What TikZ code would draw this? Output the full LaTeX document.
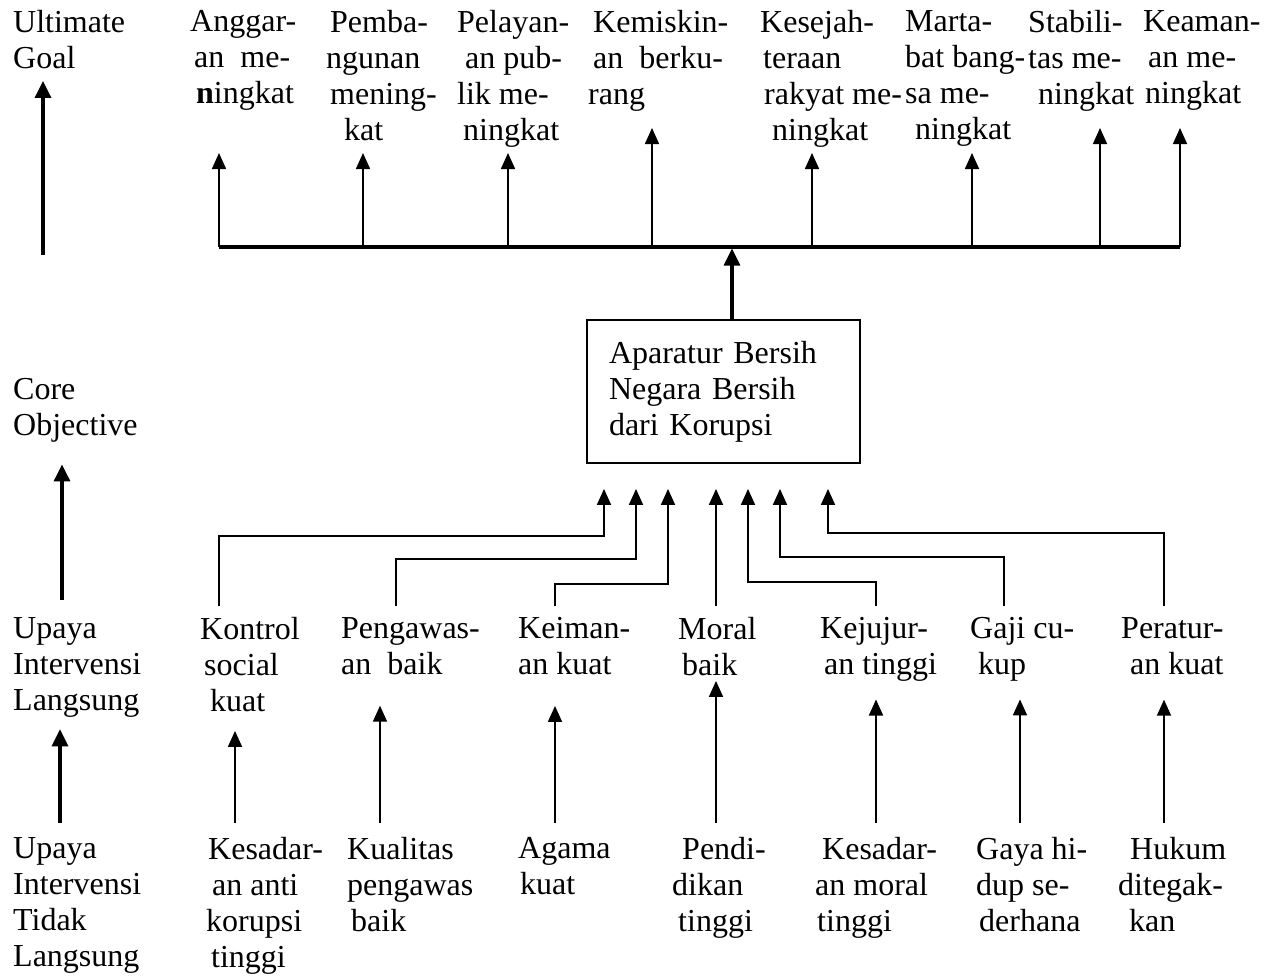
\documentclass[tikz,border=0pt]{standalone}
\usepackage{fontspec}
\setmainfont{Liberation Serif}
\usetikzlibrary{arrows.meta}
\begin{document}
\begin{tikzpicture}[x=1pt,y=-1pt,>={Triangle[width=14pt,length=16pt]},
  txt/.style={anchor=north west,inner sep=0pt,align=left,font=\fontsize{32}{36}\selectfont},
  kotak/.style={draw,line width=1.8pt,minimum width=273pt,minimum height=143pt,text width=229pt,inner xsep=22pt,align=left,font=\fontsize{32}{36}\selectfont},
  up/.style={line width=1.6pt,->},
  bigup/.style={line width=3.2pt,-{Triangle[width=16pt,length=17pt]}}]
 \useasboundingbox (0,0) rectangle (1274,977);
 % left column
 \node[txt] (ug) at (13,10) {Ultimate\\Goal};
 \node[txt] (co) at (13,378) {Core\\Objective};
 \node[txt] (il) at (13,617) {Upaya\\Intervensi\\Langsung};
 \node[txt] (itl) at (13,837) {Upaya\\Intervensi\\Tidak\\Langsung};
 \draw[bigup,shorten <=123pt,shorten >=12pt] (43,0 |- co.north) -- (43,0 |- ug.south);
 \draw[bigup,shorten <=17pt,shorten >=22pt] (62,0 |- il.north) -- (62,0 |- co.south);
 \draw[bigup,shorten <=14pt,shorten >=12pt] (60,0 |- itl.north) -- (60,0 |- il.south);
 % ultimate goals
 \node[txt] (g1) at (190,10) {Anggar-\\\hspace*{4pt}an~ me-\\\hspace*{6pt}\textbf{n}ingkat};
 \node[txt] (g2) at (326,10) {\hspace*{4pt}Pemba-\\ngunan\\\hspace*{4pt}mening-\\\hspace*{18pt}kat};
 \node[txt] (g3) at (457,10) {Pelayan-\\\hspace*{8pt}an pub-\\lik me-\\\hspace*{6pt}ningkat};
 \node[txt] (g4) at (588,10) {\hspace*{5pt}Kemiskin-\\\hspace*{5pt}an~ berku-\\rang};
 \node[txt] (g5) at (760,10) {Kesejah-\\\hspace*{3pt}teraan\\\hspace*{4pt}rakyat me-\\\hspace*{12pt}ningkat};
 \node[txt] (g6) at (905,10) {Marta-\\bat bang-\\sa me-\\\hspace*{10pt}ningkat};
 \node[txt] (g7) at (1028,10) {Stabili-\\tas me-\\\hspace*{10pt}ningkat};
 \node[txt] (g8) at (1143,10) {Keaman-\\\hspace*{5pt}an me-\\\hspace*{2pt}ningkat};
 \coordinate (bar-l) at (219,247);
 \coordinate (bar-r) at (1180,247);
 \draw[line width=3.2pt] (bar-l) -- (bar-r);
 \foreach \x/\t in {219/153,363/153,508/153,652/128,812/153,972/153,1100/128,1180/128}
  \draw[up] (\x,0 |- bar-l) -- (\x,\t);
 % core objective
 \node[kotak] (box) at (723.5,391.5) {Aparatur Bersih\\Negara Bersih\\dari Korupsi};
 \draw[bigup,shorten >=1.5pt] ([xshift=8.5pt]box.north) -- ([xshift=8.5pt]box.north |- bar-l);
 % direct interventions
 \node[txt] (kontrol) at (200,617) {Kontrol\\\hspace*{4pt}social\\\hspace*{10pt}kuat};
 \node[txt] (pengawasan) at (341,617) {Pengawas-\\an~ baik};
 \node[txt] (keimanan) at (518,617) {Keiman-\\an kuat};
 \node[txt] (moral) at (678,617) {Moral\\\hspace*{4pt}baik};
 \node[txt] (kejujuran) at (820,617) {Kejujur-\\\hspace*{4pt}an tinggi};
 \node[txt] (gaji) at (970,617) {Gaji cu-\\\hspace*{8pt}kup};
 \node[txt] (peraturan) at (1121,617) {Peratur-\\\hspace*{9pt}an kuat};
 \foreach \src/\sx/\hy/\tx in {kontrol/219/536/604,pengawasan/396/559/636,keimanan/555/584/668,kejujuran/876/582/748,gaji/1004/557/780,peraturan/1164/533/828}
  \draw[up,shorten <=11pt,shorten >=25pt] (\sx,0 |- \src.north) |- (\tx,\hy) -- (\tx,0 |- box.south);
 \draw[up,shorten <=11pt,shorten >=25pt] (716,0 |- moral.north) -- (716,0 |- box.south);
 % indirect interventions
 \node[txt] (kesadaran) at (206,837) {\hspace*{2pt}Kesadar-\\\hspace*{6pt}an anti\\korupsi\\\hspace*{5pt}tinggi};
 \node[txt] (kualitas) at (347,837) {Kualitas\\pengawas\\\hspace*{4pt}baik};
 \node[txt] (agama) at (518,837) {Agama\\\hspace*{2pt}kuat};
 \node[txt] (pendidikan) at (672,837) {\hspace*{10pt}Pendi-\\dikan\\\hspace*{6pt}tinggi};
 \node[txt] (kesadaranmoral) at (815,837) {\hspace*{7pt}Kesadar-\\an moral\\\hspace*{2pt}tinggi};
 \node[txt] (gaya) at (976,837) {Gaya hi-\\dup se-\\\hspace*{3pt}derhana};
 \node[txt] (hukum) at (1118,837) {\hspace*{12pt}Hukum\\ditegak-\\\hspace*{11pt}kan};
 \foreach \lo/\hi/\x/\gap in {kesadaran/kontrol/235/19,kualitas/pengawasan/380/31,agama/keimanan/555/31,pendidikan/moral/716/5,kesadaranmoral/kejujuran/876/18,gaya/gaji/1020/18,hukum/peraturan/1164/25}
  \draw[up,shorten <=14pt,shorten >=\gap pt] (\x,0 |- \lo.north) -- (\x,0 |- \hi.south);
\end{tikzpicture}
\end{document}
